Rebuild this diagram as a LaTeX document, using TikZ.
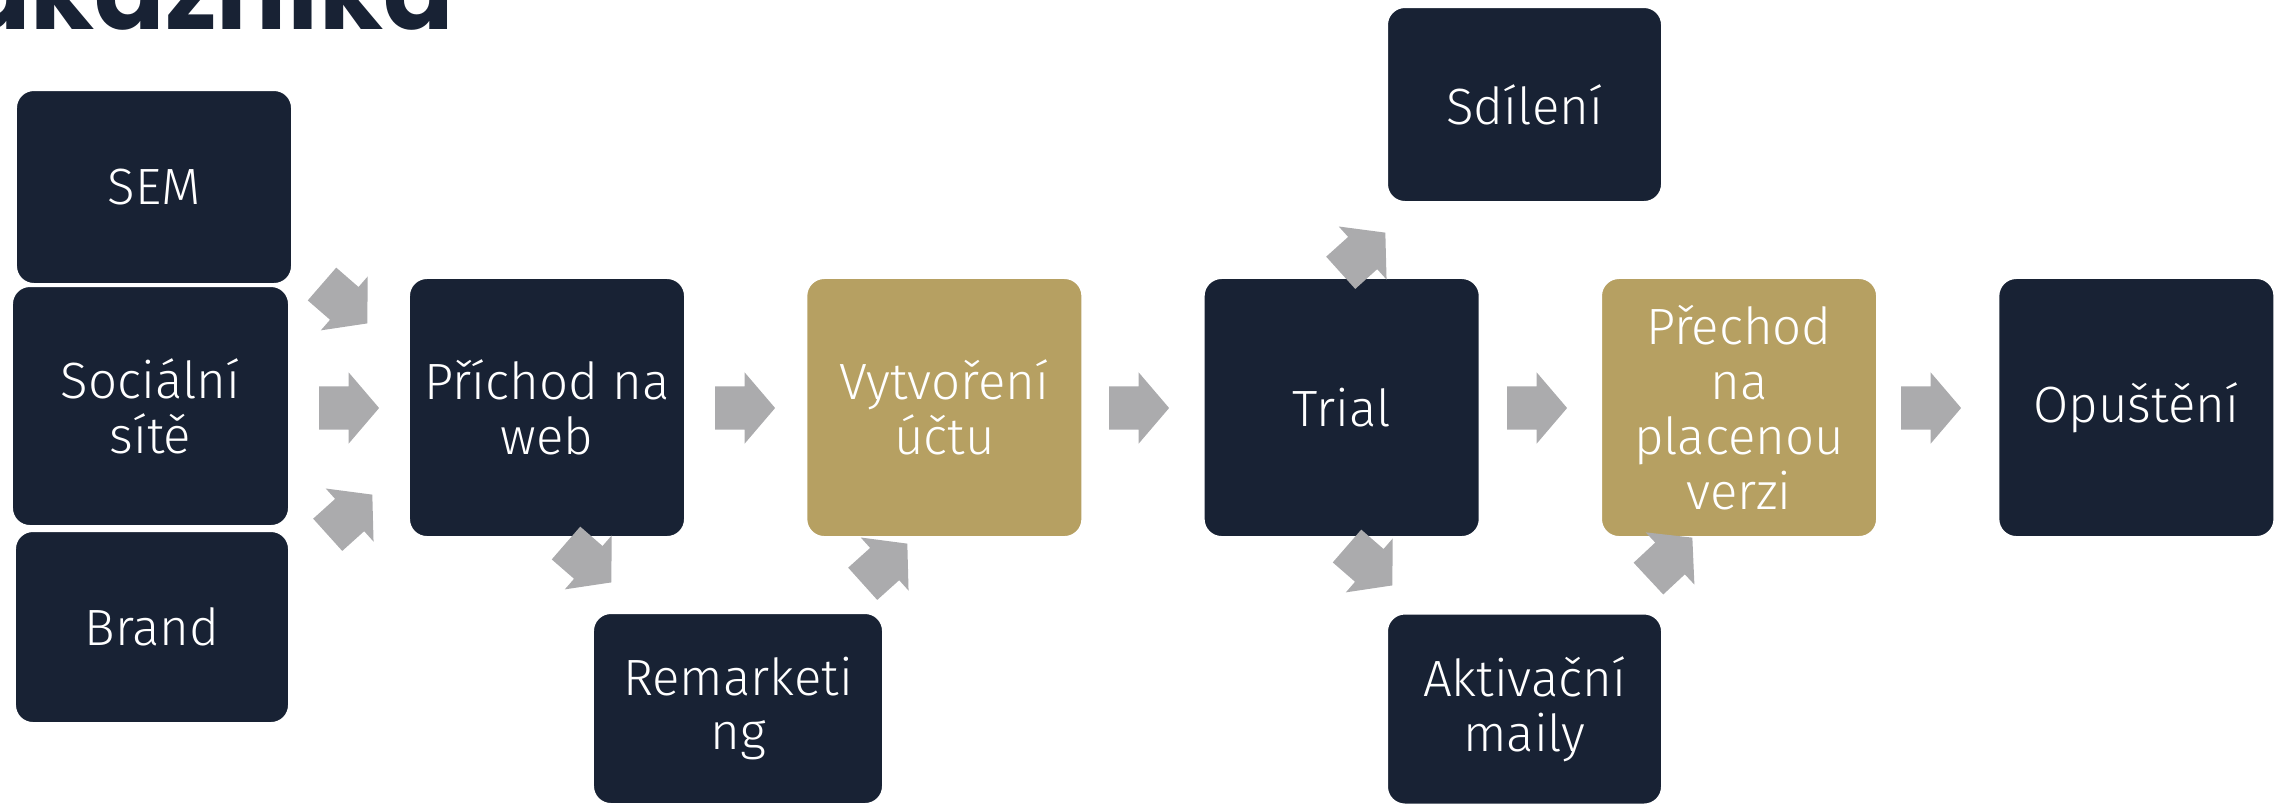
\documentclass[tikz,border=0pt]{standalone}
\usepackage{fontspec}
\setmainfont{Fira Sans Light}
\newfontfamily\titlefont{Poppins}
\usetikzlibrary{positioning,shapes.arrows}
\definecolor{navy}{HTML}{182234}
\definecolor{gold}{HTML}{B6A062}
\definecolor{arrowgray}{HTML}{ABABAD}
\tikzset{
  stage/.style={rectangle, rounded corners=0.18cm, fill=navy, draw=white,
    line width=0.6pt, text=white, align=center, inner sep=0pt,
    font=\fontsize{14.5}{15.6}\selectfont,
    minimum width=2.76cm, minimum height=2.59cm},
  goldstage/.style={stage, fill=gold},
  flow/.style={single arrow, fill=arrowgray, draw=none, inner xsep=0pt,
    inner ysep=0.21cm, minimum height=0.6cm, single arrow head extend=0.14cm,
    single arrow tip angle=99, anchor=tip}
}
\begin{document}
\begin{tikzpicture}[x=0.01cm,y=-0.01cm]
  \useasboundingbox (0,0) rectangle (2280,805);
  % title, cut by the top edge
  \node[anchor=base east, inner sep=0pt, text=navy,
    font=\titlefont\bfseries\fontsize{29.5}{36}\selectfont] (title) at (455,29) {ákazníka};
  % sources
  \node[stage, minimum height=1.94cm] (sem) at (154,187) {SEM};
  \node[stage, minimum width=2.74cm, minimum height=1.92cm] (brand) at (152,627) {Brand};
  \node[stage, minimum width=2.77cm, minimum height=2.40cm] (soc) at (150.5,406) {Sociální\\sítě};
  % main row
  \node[stage] (web) at (547,407.5) {Příchod na\\web};
  \node[goldstage, right=1.19cm of web] (ucet) {Vytvoření\\účtu};
  \node[stage, right=1.19cm of ucet] (trial) {Trial};
  \node[goldstage, right=1.19cm of trial] (prechod) {Přechod\\na\\placenou\\verzi};
  \node[stage, right=1.19cm of prechod] (opusteni) {Opuštění};
  % side boxes
  \node[stage, minimum width=2.75cm, minimum height=1.95cm] (sdileni) at (1524.5,104.5) {Sdílení};
  \node[stage, minimum width=2.90cm, minimum height=1.91cm] (remark) at (738,708.5) {Remarketi\\ng};
  \node[stage, minimum width=2.75cm, minimum height=1.91cm] (aktiv) at (1524.5,709) {Aktivační\\maily};
  % block arrows
  \node[flow, rotate=-41] (asem) at (368,324) {};
  \node[flow] (asoc) at (380,408) {};
  \node[flow, rotate=42] (abrand) at (373,494) {};
  \node[flow] (aweb) at (776,408) {};
  \node[flow, rotate=-41] (aremin) at (612,583) {};
  \node[flow, rotate=42] (aremout) at (908,543) {};
  \node[flow] (aucet) at (1170,408) {};
  \node[flow, rotate=42] (asdil) at (1386,232) {};
  \node[flow, rotate=-41] (aaktin) at (1393,586) {};
  \node[flow, rotate=43] (aaktout) at (1693,537) {};
  \node[flow] (atrial) at (1568,408) {};
  \node[flow] (aprechod) at (1962,408) {};
\end{tikzpicture}
\end{document}
